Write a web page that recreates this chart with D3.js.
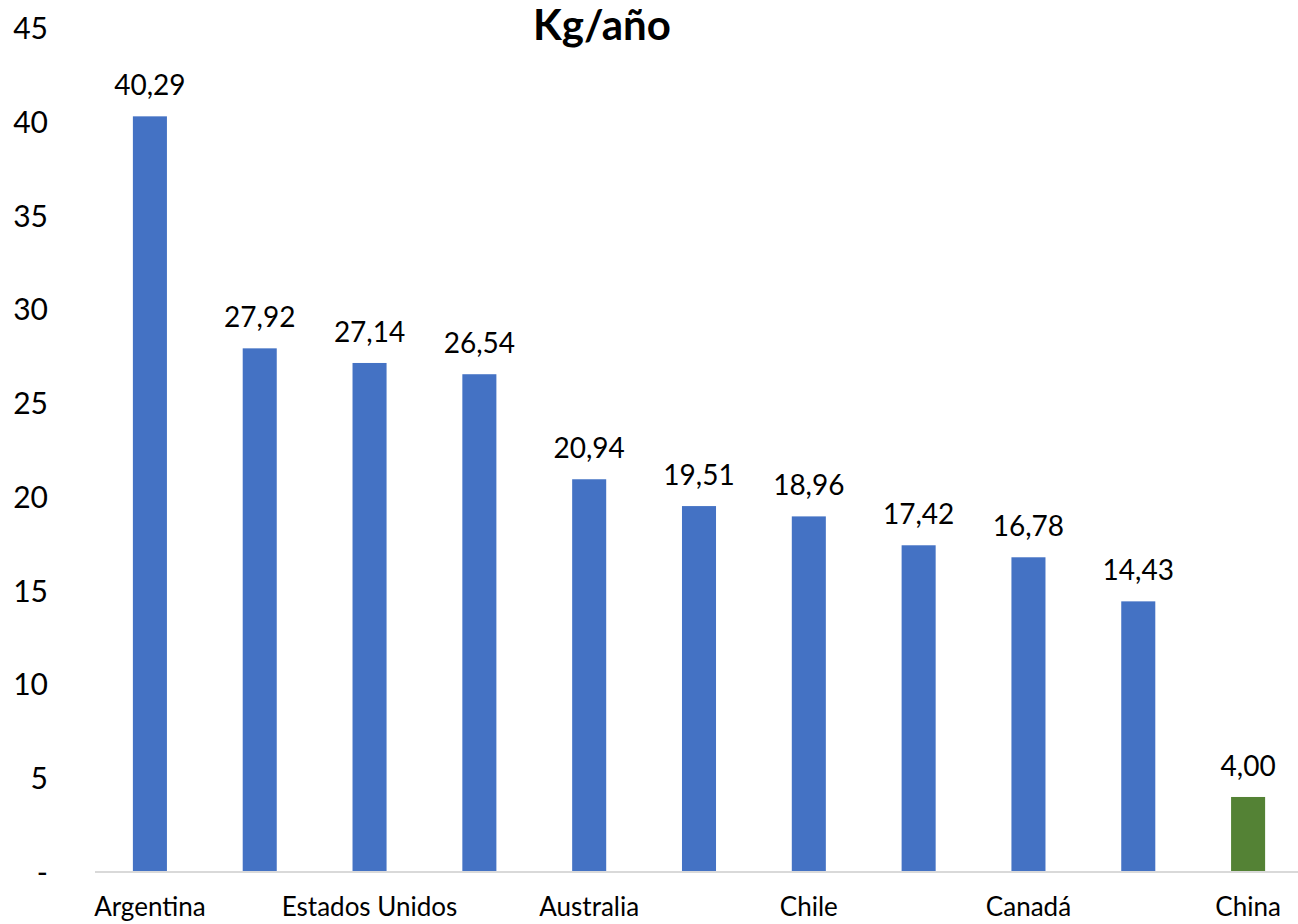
<!DOCTYPE html>
<html>
<head>
<meta charset="utf-8">
<title>Kg/año</title>
<style>
  body { margin: 0; background: #fff; }
  svg text { font-family: Lato, "Open Sans", sans-serif; fill: #000; }
</style>
</head>
<body>
<div id="chart"></div>
<script src="https://cdnjs.cloudflare.com/ajax/libs/d3/7.8.5/d3.min.js"></script>
<script>
// categories (only every other name is printed on the axis, as in the original)
var paises = ["Argentina", "Uruguay", "Estados Unidos", "Brasil", "Australia", "Israel",
              "Chile", "Paraguay", "Canadá", "Nueva Zelanda", "China"];
var consumo = [40.29, 27.92, 27.14, 26.54, 20.94, 19.51, 18.96, 17.42, 16.78, 14.43, 4.00];
var destacado = ["China"];
var yTicks = [0, 5, 10, 15, 20, 25, 30, 35, 40, 45];

var width = 1298, height = 924;
var margin = {top: 28, right: -5, bottom: 52, left: 95};

var svg = d3.select("#chart").append("svg")
  .attr("width", width)
  .attr("height", height);

var x = d3.scaleBand()
  .domain(paises)
  .range([margin.left, width - margin.right])
  .paddingInner(0.69)
  .paddingOuter(0.345);

var y = d3.scaleLinear()
  .domain([0, 45])
  .range([height - margin.bottom, margin.top]);

var fmt = function(v) { return v.toFixed(2).replace(".", ","); };

// title
svg.append("text")
  .attr("x", 602)
  .attr("y", 40)
  .attr("text-anchor", "middle")
  .style("font-size", "42px")
  .style("font-weight", "bold")
  .text("Kg/año");

// y axis, labels only
var yAxis = svg.append("g")
  .attr("transform", "translate(" + (margin.left - 47) + ",0)")
  .call(d3.axisLeft(y).tickValues(yTicks).tickSize(0).tickPadding(0)
    .tickFormat(function(d) { return d === 0 ? "-" : d; }));
yAxis.select(".domain").remove();
yAxis.selectAll("text")
  .style("font-size", "30px")
  .attr("dy", "0.35em");

// bars
svg.selectAll(".bar")
  .data(paises)
  .enter().append("rect")
  .attr("class", "bar")
  .attr("x", function(d) { return x(d); })
  .attr("width", x.bandwidth())
  .attr("y", function(d, i) { return y(consumo[i]); })
  .attr("height", function(d, i) { return y(0) - y(consumo[i]); })
  .attr("fill", function(d) { return destacado.indexOf(d) >= 0 ? "#548235" : "#4472c4"; });

// value labels
svg.selectAll(".valor")
  .data(paises)
  .enter().append("text")
  .attr("class", "valor")
  .attr("x", function(d) { return x(d) + x.bandwidth() / 2; })
  .attr("y", function(d, i) { return y(consumo[i]) - 21; })
  .attr("text-anchor", "middle")
  .style("font-size", "28px")
  .text(function(d, i) { return fmt(consumo[i]); });

// x axis
var xAxis = svg.append("g")
  .attr("transform", "translate(0," + y(0) + ")")
  .call(d3.axisBottom(x).tickSize(0).tickPadding(44)
    .tickFormat(function(d, i) { return i % 2 === 0 ? d : ""; }));
xAxis.select(".domain")
  .attr("stroke", "#d9d9d9")
  .attr("stroke-width", 2)
  .attr("d", "M" + margin.left + ",0H" + width);
xAxis.selectAll("text")
  .style("font-size", "26px")
  .attr("dy", "0");
</script>
</body>
</html>
